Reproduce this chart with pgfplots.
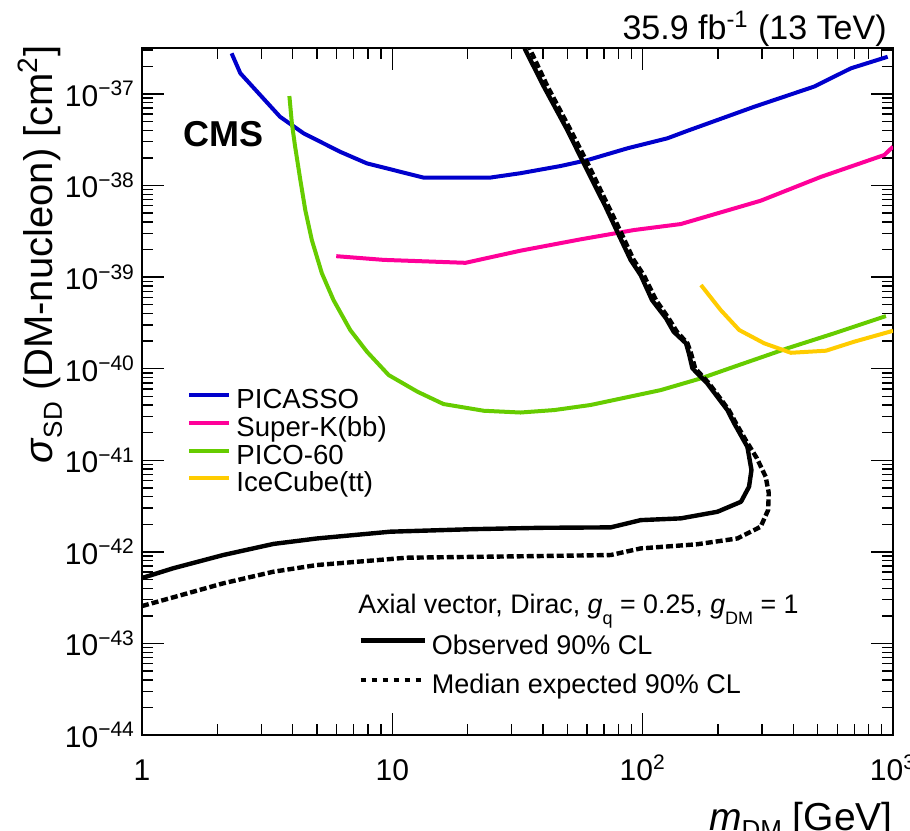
\documentclass[border=0pt]{standalone}
\usepackage{fontspec}
\setmainfont{Liberation Sans}
\usepackage{pgfplots}
\pgfplotsset{compat=1.18}

\definecolor{cPicasso}{RGB}{0,0,204}
\definecolor{cSuperK}{RGB}{255,0,153}
\definecolor{cPico}{RGB}{102,204,0}
\definecolor{cIce}{RGB}{255,204,0}

% lowered subscript: #1 = drop, #2 = size in pt, #3 = text
\newcommand{\lsub}[3]{\raisebox{-#1}{\fontsize{#2}{#2}\selectfont #3}}

\begin{document}
\begin{tikzpicture}
\begin{axis}[
  name=main,
  scale only axis, width=375.5pt, height=343.5pt,
  xmode=log, ymode=log,
  xmin=1, xmax=1000, ymin=1e-44, ymax=3.1623e-37,
  xtick={1,10,100,1000},
  xticklabels={1,10,10\textsuperscript{2},10\textsuperscript{3}},
  ytick={1e-44,1e-43,1e-42,1e-41,1e-40,1e-39,1e-38,1e-37},
  yticklabels={10\textsuperscript{−44},10\textsuperscript{−43},10\textsuperscript{−42},10\textsuperscript{−41},10\textsuperscript{−40},10\textsuperscript{−39},10\textsuperscript{−38},10\textsuperscript{−37}},
  minor xtick={2,3,4,5,6,7,8,9,20,30,40,50,60,70,80,90,200,300,400,500,600,700,800,900},
  minor ytick={2e-44,3e-44,4e-44,5e-44,6e-44,7e-44,8e-44,9e-44,
               2e-43,3e-43,4e-43,5e-43,6e-43,7e-43,8e-43,9e-43,
               2e-42,3e-42,4e-42,5e-42,6e-42,7e-42,8e-42,9e-42,
               2e-41,3e-41,4e-41,5e-41,6e-41,7e-41,8e-41,9e-41,
               2e-40,3e-40,4e-40,5e-40,6e-40,7e-40,8e-40,9e-40,
               2e-39,3e-39,4e-39,5e-39,6e-39,7e-39,8e-39,9e-39,
               2e-38,3e-38,4e-38,5e-38,6e-38,7e-38,8e-38,9e-38,
               2e-37,3e-37},
  tick align=inside, tick pos=both,
  major tick length=11pt, minor tick length=5.5pt,
  tick style={black, line width=0.7pt},
  axis line style={line width=1pt},
  ticklabel style={font=\fontsize{15}{18}\selectfont},
  xticklabel style={anchor=base, yshift=-22.5pt},
  legend style={at={(rel axis cs:0.06,0.505)}, anchor=north west,
    draw=none, fill=none, inner sep=0pt, row sep=0pt,
    font=\fontsize{13.8}{13.8}\selectfont,
    nodes={inner ysep=0.3pt, inner xsep=2.5pt, text height=9.9pt, text depth=3.3pt}},
  legend cell align=left,
  legend image code/.code={\draw[#1,line width=2pt] (0pt,3.5pt) -- (20pt,3.5pt);},
]

% PICASSO
\addplot[cPicasso, line width=2pt] coordinates {
  (2.28,2.77e-37) (2.47,1.68e-37) (3.56,5.62e-38) (4.42,3.71e-38)
  (6.19,2.33e-38) (7.92,1.74e-38) (13.3,1.22e-38) (24.7,1.22e-38)
  (32.5,1.36e-38) (47.0,1.63e-38) (60.1,1.89e-38) (86.8,2.54e-38)
  (125.5,3.27e-38) (151,3.95e-38) (279,7.23e-38) (484,1.20e-37)
  (679,1.90e-37) (952,2.54e-37)};
\addlegendentry{PICASSO}

% Super-K (bb)
\addplot[cSuperK, line width=2pt] coordinates {
  (5.97,1.69e-39) (9.23,1.54e-39) (19.6,1.43e-39) (32.5,1.94e-39)
  (56.5,2.58e-39) (92.3,3.26e-39) (142,3.79e-39) (296,6.81e-39)
  (515,1.24e-38) (923,2.15e-38) (1000,2.65e-38)};
\addlegendentry{Super-K(bb)}

% PICO-60
\addplot[cPico, line width=2pt, line join=round] coordinates {
  (3.88,9.46e-38) (3.97,4.76e-38) (4.09,2.65e-38) (4.29,1.15e-38)
  (4.49,5.38e-39) (4.77,2.53e-39) (5.23,1.10e-39)
  (5.82,5.61e-40) (6.79,2.64e-40) (7.92,1.53e-40) (9.67,8.51e-41) (12.6,5.60e-41)
  (16.0,4.11e-41) (23.2,3.47e-41) (32.5,3.32e-41) (44.3,3.53e-41)
  (61.9,4.01e-41) (118,5.83e-41) (171,7.84e-41) (232,1.05e-40)
  (379,1.67e-40) (582,2.43e-40) (937,3.75e-40)};
\addlegendentry{PICO-60}

% IceCube (tt)
\addplot[cIce, line width=2pt] coordinates {
  (171,8.18e-40) (205,4.36e-40) (243,2.64e-40) (306,1.89e-40)
  (391,1.49e-40) (540,1.57e-40) (700,1.97e-40) (1000,2.59e-40)};
\addlegendentry{IceCube(tt)}

% Observed 90% CL
\addplot[black, line width=2.2pt, line join=round, forget plot] coordinates {
  (1,5.18e-43) (1.33,6.61e-43) (2.11,9.23e-43) (3.35,1.22e-42)
  (5.00,1.40e-42) (9.82,1.66e-42) (21.1,1.77e-42) (39.1,1.83e-42)
  (74.5,1.85e-42) (98.2,2.22e-42) (142,2.32e-42) (199,2.74e-42)
  (247,3.52e-42) (266,5.14e-42) (272,7.82e-42) (262,1.40e-41)
  (232,2.53e-41) (218,3.53e-41) (181,6.92e-41) (158,1.01e-40)
  (153,1.47e-40) (149,1.89e-40) (133,2.53e-40) (124,3.54e-40)
  (109,5.61e-40) (98.2,1.05e-39) (89.5,1.54e-39) (79.2,3.12e-39)
  (71.1,5.86e-39) (58.2,1.74e-38) (50.0,4.03e-38) (40.3,1.20e-37)
  (34.0,3.01e-37) (33.5,3.40e-37)};

% Median expected 90% CL
\addplot[black, line width=2.2pt, dash pattern=on 3.5pt off 1.5pt, forget plot] coordinates {
  (1,2.56e-43) (2.11,4.53e-43) (3.35,6.07e-43) (5.00,7.18e-43)
  (11.4,8.63e-43) (39.1,9.00e-43) (74.5,9.23e-43) (98.2,1.09e-42)
  (165,1.21e-42) (239,1.40e-42) (296,1.88e-42) (317,2.86e-42)
  (319,4.39e-42) (310,6.61e-42) (286,1.05e-41) (258,1.66e-41)
  (236,2.53e-41) (221,3.53e-41) (184,6.92e-41) (162,1.01e-40)
  (156,1.47e-40) (151,1.89e-40) (137,2.53e-40) (127,3.54e-40)
  (113,5.61e-40) (101,1.05e-39) (92,1.54e-39) (81.7,3.12e-39)
  (73.1,5.86e-39) (60.3,1.74e-38) (51.5,4.03e-38) (41.7,1.20e-37)
  (35.6,3.01e-37) (35.0,3.40e-37)};

\node[anchor=base west, inner sep=0pt, font=\bfseries\fontsize{18}{18}\selectfont]
  at (rel axis cs:0.0546,0.856) {CMS};
\node[anchor=base west, inner sep=0pt, font=\fontsize{13.4}{13.4}\selectfont]
  at (rel axis cs:0.2876,0.1776)
  {Axial vector, Dirac, \textit{g}\lsub{0.42em}{9}{q} = 0.25, \textit{g}\lsub{0.42em}{9}{DM} = 1};
\end{axis}

% second legend for the CMS limits
\begin{axis}[
  at={(main.south west)}, anchor=south west,
  scale only axis, width=375.5pt, height=343.5pt,
  hide axis, xmin=0, xmax=1, ymin=0, ymax=1,
  legend style={at={(rel axis cs:0.2876,0.148)}, anchor=north west,
    draw=none, fill=none, inner sep=0pt, row sep=6pt,
    font=\fontsize{13.5}{13.5}\selectfont,
    nodes={inner ysep=0.3pt, inner xsep=2.5pt, text height=9.9pt, text depth=3.3pt}},
  legend cell align=left,
  legend image code/.code={\draw[#1] (0pt,3.5pt) -- (32pt,3.5pt);},
]
\addlegendimage{black, line width=2.2pt}
\addlegendentry{Observed 90\% CL}
\addlegendimage{black, line width=2.2pt, dash pattern=on 2.5pt off 3pt}
\addlegendentry{Median expected 90\% CL}
\end{axis}

\node[anchor=base east, inner sep=0pt, font=\fontsize{17}{17}\selectfont, xshift=-3pt, yshift=4pt]
  at (main.north east) {35.9 fb\textsuperscript{-1} (13 TeV)};
\path (main.north west) ++(-44.5pt,1.5pt)
  node[rotate=90, anchor=base east, inner sep=0pt, font=\fontsize{20}{20}\selectfont]
  {\textit{σ}\lsub{0.22em}{13}{SD} (DM-nucleon) [cm\textsuperscript{2}]};
\path (main.south east) ++(0pt,-47.5pt)
  node[anchor=base east, inner sep=0pt, font=\fontsize{19.5}{19.5}\selectfont]
  {\textit{m}\lsub{0.22em}{13}{DM} [GeV]};

\pgfresetboundingbox
\path[use as bounding box] (main.south west) ++(-71pt,-47.5pt) rectangle ++(455pt,415pt);
\end{tikzpicture}
\end{document}
